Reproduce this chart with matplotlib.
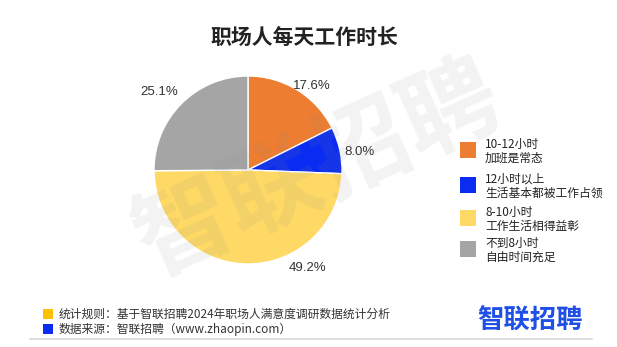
import matplotlib
matplotlib.use("Agg")
import matplotlib.pyplot as plt
from matplotlib.patches import Rectangle

plt.rcParams['font.family'] = ['Noto Sans CJK SC', 'DejaVu Sans']

title = "职场人每天工作时长"
categories = ["10-12小时\n加班是常态", "12小时以上\n生活基本都被工作占领",
              "8-10小时\n工作生活相得益彰", "不到8小时\n自由时间充足"]
values = [17.6, 8.0, 49.2, 25.1]
labels = ["17.6%", "8.0%", "49.2%", "25.1%"]
colors = ["#ED7D31", "#0A2CF2", "#FFD966", "#A5A5A5"]
label_pos = [(0.68, 0.89), (1.19, 0.19), (0.63, -1.04), (-0.94, 0.83)]
footer_lines = ["统计规则：基于智联招聘2024年职场人满意度调研数据统计分析",
                "数据来源：智联招聘（www.zhaopin.com）"]
footer_colors = ["#FFC000", "#0A2CF2"]
logo = "智联招聘"

W, H = 617, 347
fig = plt.figure(figsize=(W / 100, H / 100), dpi=100)
fig.patch.set_facecolor("white")

def fx(px):
    return px / W

def fy(py):
    return 1 - py / H

# pie axes: center (248,170), radius 94 px
cx, cy, r = 248, 170, 94
ax = fig.add_axes([fx(cx - r), fy(cy + r), 2 * r / W, 2 * r / H])
ax.pie(values, colors=colors, startangle=90, counterclock=False,
       wedgeprops=dict(edgecolor="white", linewidth=1.0), radius=1.0)
ax.set_xlim(-1, 1)
ax.set_ylim(-1, 1)
ax.set_aspect("auto")
ax.axis("off")
for lab, (x, y) in zip(labels, label_pos):
    ax.text(x, y, lab, ha="center", va="center", fontsize=9.5,
            family=["Liberation Sans", "DejaVu Sans"], color="#333333",
            clip_on=False)

# title
fig.text(fx(304), fy(37), title, ha="center", va="center", fontsize=15,
         fontweight="bold", color="#222222")

# watermark
fig.text(fx(318), fy(172), logo, ha="center", va="center", fontsize=70,
         fontweight="bold", color="#888888", alpha=0.1, rotation=24,
         zorder=10)

# legend
leg_y = [150, 185, 218, 249]
for cat, col, y in zip(categories, colors, leg_y):
    fig.patches.append(Rectangle((fx(460), fy(y + 8)), 16 / W, 16 / H,
                                 transform=fig.transFigure, facecolor=col,
                                 edgecolor="none"))
    l1, l2 = cat.split("\n")
    fig.text(fx(485), fy(y - 6), l1, ha="left", va="center", fontsize=8.5,
             color="#222222", fontweight="medium")
    fig.text(fx(485), fy(y + 8), l2, ha="left", va="center", fontsize=8.5,
             color="#222222", fontweight="medium")

# footer
for line, col, y in zip(footer_lines, footer_colors, [314, 329]):
    fig.patches.append(Rectangle((fx(43), fy(y + 5)), 10 / W, 10 / H,
                                 transform=fig.transFigure, facecolor=col,
                                 edgecolor="none"))
    fig.text(fx(59), fy(y), line, ha="left", va="center", fontsize=8.5,
             color="#333333", fontweight="medium")

fig.text(fx(530), fy(321), logo, ha="center", va="center", fontsize=19,
         fontweight="bold", color="#1F4FE6")

fig.lines.append(plt.Line2D([fx(30), fx(592)], [fy(339), fy(339)],
                            transform=fig.transFigure, color="#D8D8D8",
                            linewidth=1.2))

fig.savefig("out.png", dpi=100, facecolor="white")
